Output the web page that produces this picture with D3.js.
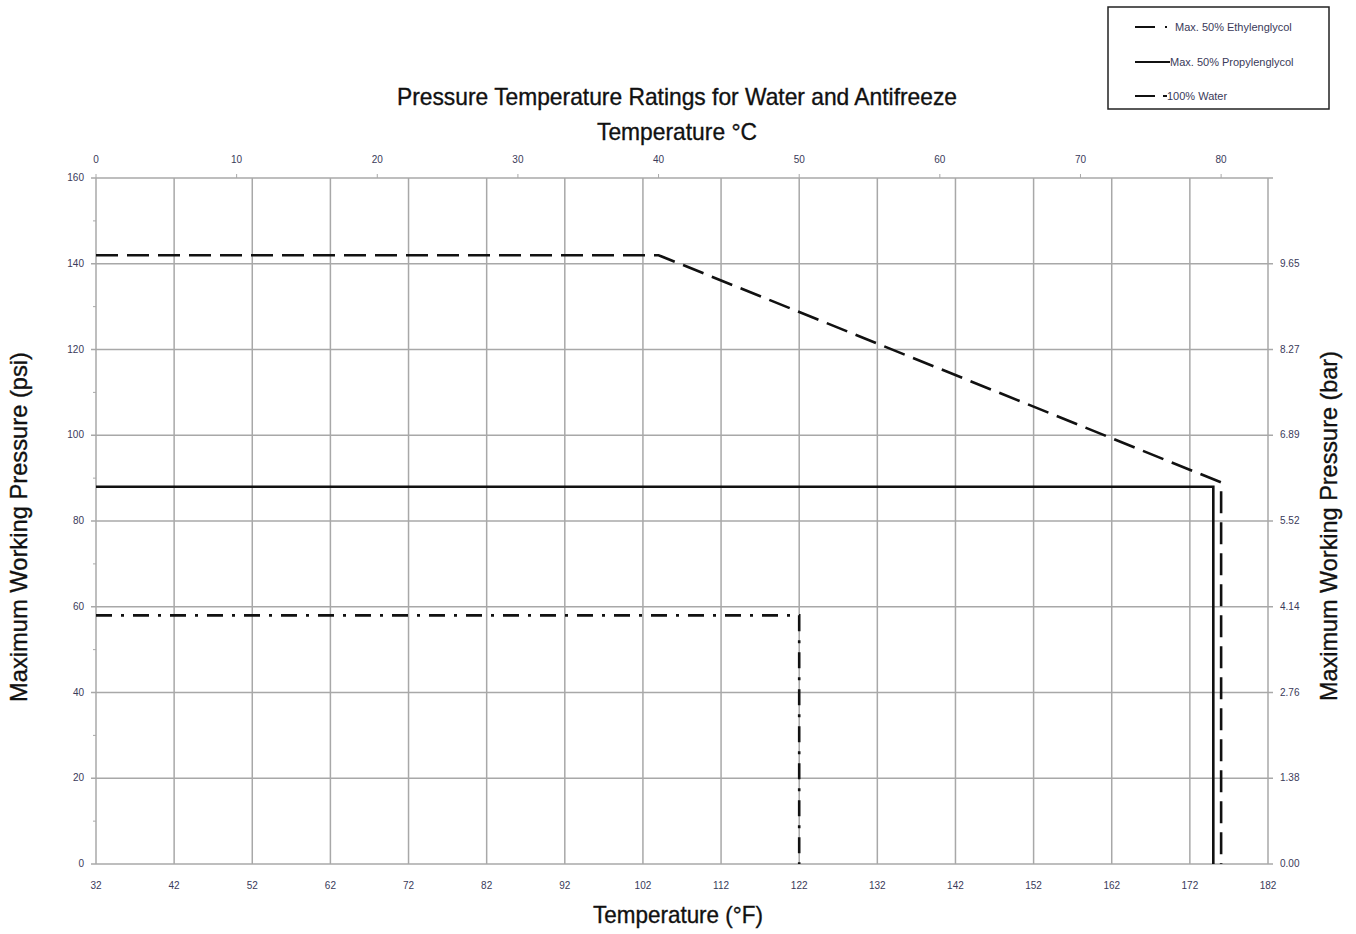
<!DOCTYPE html>
<html lang="en">
<head>
  <meta charset="UTF-8">
  <title>Pressure Temperature Ratings for Water and Antifreeze</title>
  <script src="https://d3js.org/d3.v7.min.js"></script>
  <style>
    body {
      margin: 0;
      background: #fff;
    }
    svg {
      display: block;
    }
    .tick-label {
      font-family: "Liberation Sans", sans-serif;
      font-size: 10px;
      fill: #3a3a5a;
    }
    .legend-label {
      font-family: "Liberation Sans", sans-serif;
      font-size: 11px;
      fill: #3a3a5a;
    }
    .big {
      font-family: "Liberation Sans", Arial, sans-serif;
      font-size: 24px;
      fill: #111;
      stroke: #111;
      stroke-width: 0.35px;
    }
    .grid line {
      stroke: #a8a8a8;
      stroke-width: 1.5px;
    }
  </style>
</head>
<body>
  <svg id="chart" width="1356" height="934"></svg>

  <script>
    // values
    const fahrenheitTicks = [32, 42, 52, 62, 72, 82, 92, 102, 112, 122, 132, 142, 152, 162, 172, 182];
    const celsiusTicks = [0, 10, 20, 30, 40, 50, 60, 70, 80];
    const psiTicks = [0, 20, 40, 60, 80, 100, 120, 140, 160];
    const psiMinorTicks = [10, 30, 50, 70, 90, 110, 130, 150];
    const barLabels = ["0.00", "1.38", "2.76", "4.14", "5.52", "6.89", "8.27", "9.65"];

    const ethylenglycol = [
      { f: 32, psi: 142 }, { f: 104, psi: 142 }, { f: 176, psi: 89 }, { f: 176, psi: 0 }
    ];
    const propylenglycol = [
      { f: 32, psi: 88 }, { f: 175, psi: 88 }, { f: 175, psi: 0 }
    ];
    const water = [
      { f: 32, psi: 58 }, { f: 122, psi: 58 }, { f: 122, psi: 0 }
    ];

    const svg = d3.select("#chart");
    const plotLeft = 96, plotRight = 1268, plotTop = 178, plotBottom = 864;

    const x = d3.scaleLinear().domain([32, 182]).range([plotLeft, plotRight]);
    const y = d3.scaleLinear().domain([0, 160]).range([plotBottom, plotTop]);
    const cToF = c => c * 9 / 5 + 32;

    // grid
    const grid = svg.append("g").attr("class", "grid");
    grid.append("g").selectAll("line")
      .data(fahrenheitTicks)
      .join("line")
        .attr("x1", d => x(d)).attr("x2", d => x(d))
        .attr("y1", plotTop).attr("y2", plotBottom);
    grid.append("g").selectAll("line")
      .data(psiTicks)
      .join("line")
        .attr("x1", plotLeft - 5).attr("x2", plotRight + 5)
        .attr("y1", d => y(d)).attr("y2", d => y(d));

    // minor ticks on the left axis
    svg.append("g").selectAll("line")
      .data(psiMinorTicks)
      .join("line")
        .attr("x1", plotLeft - 3).attr("x2", plotLeft)
        .attr("y1", d => y(d)).attr("y2", d => y(d))
        .attr("stroke", "#a8a8a8").attr("stroke-width", 1);

    // top (celsius) axis ticks
    svg.append("g").selectAll("line")
      .data(celsiusTicks)
      .join("line")
        .attr("x1", d => x(cToF(d))).attr("x2", d => x(cToF(d)))
        .attr("y1", plotTop - 4).attr("y2", plotTop)
        .attr("stroke", "#a8a8a8").attr("stroke-width", 1);

    // tick labels
    svg.append("g").selectAll("text")
      .data(fahrenheitTicks)
      .join("text")
        .attr("class", "tick-label")
        .attr("x", d => x(d))
        .attr("y", plotBottom + 25)
        .attr("text-anchor", "middle")
        .text(d => d);

    svg.append("g").selectAll("text")
      .data(celsiusTicks)
      .join("text")
        .attr("class", "tick-label")
        .attr("x", d => x(cToF(d)))
        .attr("y", plotTop - 15)
        .attr("text-anchor", "middle")
        .text(d => d);

    svg.append("g").selectAll("text")
      .data(psiTicks)
      .join("text")
        .attr("class", "tick-label")
        .attr("x", plotLeft - 12)
        .attr("y", d => y(d) + 3)
        .attr("text-anchor", "end")
        .text(d => d);

    svg.append("g").selectAll("text")
      .data(barLabels)
      .join("text")
        .attr("class", "tick-label")
        .attr("x", plotRight + 12)
        .attr("y", (d, i) => y(psiTicks[i]) + 3)
        .text(d => d);

    // series
    const line = d3.line().x(d => x(d.f)).y(d => y(d.psi));
    const series = [
      { data: propylenglycol, dash: null, name: "Max. 50% Propylenglycol" },
      { data: ethylenglycol, dash: "22,9", name: "Max. 50% Ethylenglycol" },
      { data: water, dash: "16,9,3,9", name: "100% Water" }
    ];
    svg.append("g").selectAll("path")
      .data(series)
      .join("path")
        .attr("d", d => line(d.data))
        .attr("fill", "none")
        .attr("stroke", "#111")
        .attr("stroke-width", 2.6)
        .attr("stroke-dasharray", d => d.dash);

    // titles (condensed to the widths seen in the reference)
    const bigText = (label, tx, ty, width, rotate) => {
      const t = svg.append("text").attr("class", "big")
        .attr("text-anchor", "middle")
        .attr("transform", `translate(${tx},${ty})` + (rotate ? " rotate(-90)" : ""))
        .attr("textLength", width)
        .attr("lengthAdjust", "spacingAndGlyphs")
        .text(label);
      return t;
    };
    bigText("Pressure Temperature Ratings for Water and Antifreeze", 677, 105, 560, false);
    bigText("Temperature °C", 677, 140, 160, false);
    bigText("Temperature (°F)", 678, 923, 170, false);
    bigText("Maximum Working Pressure (psi)", 27, 527, 350, true);
    bigText("Maximum Working Pressure (bar)", 1337, 526, 350, true);

    // legend
    const legend = svg.append("g");
    legend.append("rect")
      .attr("x", 1108).attr("y", 7)
      .attr("width", 221).attr("height", 102)
      .attr("fill", "#fff").attr("stroke", "#222").attr("stroke-width", 1.5);

    const legendRows = [
      { name: "Max. 50% Ethylenglycol", dash: "20,10,2,20", y: 27, tx: 1175 },
      { name: "Max. 50% Propylenglycol", dash: null, y: 62, tx: 1170 },
      { name: "100% Water", dash: "20,8,4,20", y: 96, tx: 1167 }
    ];
    const rows = legend.selectAll("g")
      .data(legendRows)
      .join("g");
    rows.append("line")
      .attr("x1", 1135).attr("x2", d => d.dash ? 1167 : 1170)
      .attr("y1", d => d.y).attr("y2", d => d.y)
      .attr("stroke", "#111").attr("stroke-width", 2)
      .attr("stroke-dasharray", d => d.dash);
    rows.append("text")
      .attr("class", "legend-label")
      .attr("x", d => d.tx)
      .attr("y", d => d.y + 4)
      .text(d => d.name);
  </script>
</body>
</html>
